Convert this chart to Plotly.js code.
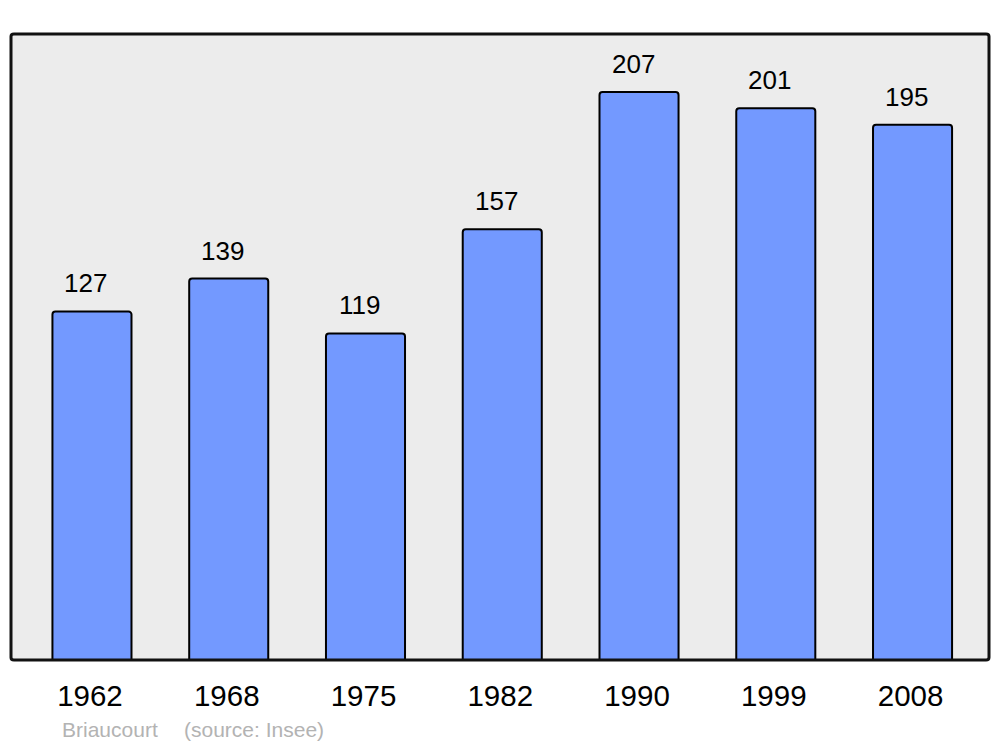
<!DOCTYPE html>
<html><head><meta charset="utf-8">
<script src="https://cdn.plot.ly/plotly-3.0.1.min.js"></script>
<style>html,body{margin:0;padding:0;background:#fff}</style>
</head><body>
<div id="chart" style="width:1000px;height:747px"></div>
<script>
const years = ["1962","1968","1975","1982","1990","1999","2008"];
const population = [127,139,119,157,207,201,195];
const footerName = "Briaucourt";
const footerSource = "(source: Insee)";

const W = 1000, H = 747;
const L = 11, R = 11, T = 34, B = 87;
const FONT = 'Liberation Sans, Arial, sans-serif';

const annotations = years.map((y,i)=>({
  x: i, y: population[i], xref:'x', yref:'y', text: String(population[i]),
  showarrow:false, yanchor:'bottom', xanchor:'center', yshift:11, xshift:-6,
  font:{family:FONT, size:26, color:'#000'}
}));
const pw = W-L-R, ph = H-T-B;
annotations.push({x:(60-L)/pw, y:(H-729-B)/ph, xref:'paper', yref:'paper', text:footerName, showarrow:false,
  xanchor:'left', yanchor:'middle', font:{family:FONT, size:21, color:'#b3b3b3'}});
annotations.push({x:(182-L)/pw, y:(H-729-B)/ph, xref:'paper', yref:'paper', text:footerSource, showarrow:false,
  xanchor:'left', yanchor:'middle', font:{family:FONT, size:21, color:'#b3b3b3'}});

const framePath = 'M0.003,0 L0.997,0 Q1,0 1,0.004 L1,0.996 Q1,1 0.997,1 L0.003,1 Q0,1 0,0.996 L0,0.004 Q0,0 0.003,0 Z';

const trace = {
  type:'bar', x: years.map((_,i)=>i), y: population,
  width: 0.578,
  marker:{color:'#7399ff', line:{color:'#000', width:2}, cornerradius:3},
  hoverinfo:'skip'
};

const layout = {
  width:W, height:H,
  margin:{l:L, r:R, t:T, b:B, pad:0},
  paper_bgcolor:'#fff', plot_bgcolor:'rgba(0,0,0,0)',
  showlegend:false,
  xaxis:{range:[-0.592,6.559], tickmode:'array', tickvals:years.map((_,i)=>i), ticktext:years,
    showgrid:false, zeroline:false, showline:false, ticks:'', ticklabelstandoff:15, ticklabelshift:-2,
    tickfont:{family:FONT, size:29.5, color:'#000'}, fixedrange:true},
  yaxis:{range:[0,228.1], showgrid:false, zeroline:false, showline:false, showticklabels:false, ticks:'', fixedrange:true},
  shapes:[
    {type:'path', xref:'paper', yref:'paper', path:framePath, fillcolor:'#ececec', line:{width:0}, layer:'below'},
    {type:'path', xref:'paper', yref:'paper', path:framePath, fillcolor:'rgba(0,0,0,0)', line:{color:'#111', width:3}, layer:'above'}
  ],
  annotations: annotations
};
Plotly.newPlot('chart',[trace],layout,{displayModeBar:false, staticPlot:true});
</script>
</body></html>
